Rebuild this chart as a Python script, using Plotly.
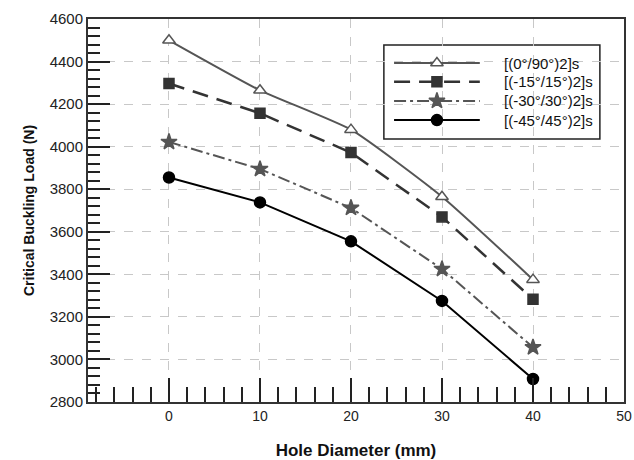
import plotly.graph_objects as go

hole_diameter = [0, 10, 20, 30, 40]
series_names = ["[(0°/90°)2]s", "[(-15°/15°)2]s", "[(-30°/30°)2]s", "[(-45°/45°)2]s"]
load_0_90 = [4500, 4265, 4080, 3765, 3375]
load_15 = [4297, 4157, 3972, 3670, 3283]
load_30 = [4022, 3895, 3712, 3425, 3057]
load_45 = [3855, 3738, 3555, 3275, 2908]

styles = [
    dict(color="#555555", dash="solid", width=2, symbol="triangle-up", fill="white", size=11, shape="spline"),
    dict(color="#333333", dash="16px,9px", width=2.5, symbol="square", fill="#333333", size=10, shape="linear"),
    dict(color="#555555", dash="12px,4px,3px,4px", width=2, symbol="star", fill="#555555", size=12, shape="linear"),
    dict(color="#000000", dash="solid", width=2, symbol="circle", fill="#000000", size=11, shape="linear"),
]

fig = go.Figure()
for name, vals, st in zip(series_names, [load_0_90, load_15, load_30, load_45], styles):
    fig.add_trace(go.Scatter(
        x=hole_diameter, y=vals, name=name, mode="lines+markers", showlegend=False,
        line=dict(color=st["color"], dash=st["dash"], width=st["width"], shape=st["shape"], smoothing=0.5),
        marker=dict(symbol=st["symbol"], size=st["size"], color=st["fill"],
                    line=dict(color=st["color"], width=1.5)),
    ))

# custom legend (layout only) drawn on an overlay axis spanning the plot area in [0,1]
leg_x0, leg_x1, leg_xm, leg_text_x = 0.571, 0.731, 0.651, 0.772
leg_rows = [0.885, 0.836, 0.786, 0.736]
for name, st, ry in zip(series_names, styles, leg_rows):
    fig.add_trace(go.Scatter(
        x=[leg_x0, leg_x1], y=[ry, ry], mode="lines", xaxis="x2", yaxis="y2",
        showlegend=False, hoverinfo="skip",
        line=dict(color=st["color"], dash=st["dash"], width=st["width"]),
    ))
    fig.add_trace(go.Scatter(
        x=[leg_xm], y=[ry], mode="markers", xaxis="x2", yaxis="y2",
        showlegend=False, hoverinfo="skip",
        marker=dict(symbol=st["symbol"], size=st["size"], color=st["fill"],
                    line=dict(color=st["color"], width=1.5)),
    ))
    fig.add_annotation(x=leg_text_x, y=ry, xref="x2", yref="y2", text=name,
                       showarrow=False, xanchor="left", yanchor="middle",
                       font=dict(size=15, color="#111111"))

fig.add_shape(type="rect", xref="paper", yref="paper", x0=0.552, x1=0.955, y0=0.687, y1=0.932,
              line=dict(color="#222222", width=1.5), fillcolor="white", layer="below")

fig.update_layout(
    width=634, height=460,
    margin=dict(l=88, r=10, t=19, b=58),
    plot_bgcolor="white", paper_bgcolor="white",
    font=dict(family="Liberation Sans, Arial, sans-serif", size=14, color="#222222"),
    showlegend=False,
    xaxis=dict(
        range=[-8.9, 50], tickmode="array", tickvals=[0, 10, 20, 30, 40, 50],
        ticks="inside", ticklen=24, tickwidth=1.5, tickcolor="#222222",
        tickfont=dict(size=14), automargin=False,
        minor=dict(dtick=2, tick0=0, ticks="inside", ticklen=15, tickwidth=1.5,
                   tickcolor="#222222", showgrid=False),
        showgrid=True, gridcolor="#c8c8c8", griddash="dash", gridwidth=1,
        showline=True, linecolor="#333333", linewidth=2, mirror=True, zeroline=False,
        title=dict(text="<b>Hole Diameter (mm)</b>", font=dict(size=17, color="#111111"), standoff=22),
    ),
    yaxis=dict(
        range=[2800, 4600], dtick=200,
        ticks="inside", ticklen=22, tickwidth=1.5, tickcolor="#222222",
        tickfont=dict(size=15), automargin=False,
        minor=dict(dtick=40, ticks="inside", ticklen=12, tickwidth=1.5,
                   tickcolor="#222222", showgrid=False),
        showgrid=True, gridcolor="#c8c8c8", griddash="dash", gridwidth=1,
        showline=True, linecolor="#333333", linewidth=2, mirror=True, zeroline=False,
        title=dict(text="<b>Critical Buckling Load (N)</b>", font=dict(size=14, color="#111111"), standoff=12),
    ),
    xaxis2=dict(overlaying="x", range=[0, 1], visible=False, fixedrange=True),
    yaxis2=dict(overlaying="y", range=[0, 1], visible=False, fixedrange=True),
)

fig.write_html("out.html")
